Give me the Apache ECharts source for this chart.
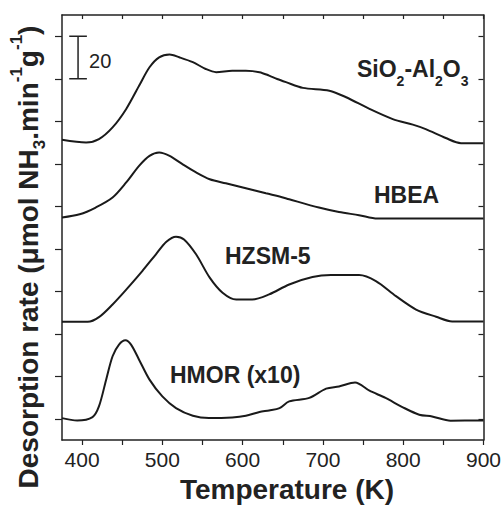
<!DOCTYPE html>
<html>
<head>
<meta charset="utf-8">
<script src="https://cdn.jsdelivr.net/npm/echarts@6.0.0/dist/echarts.min.js"></script>
<style>
html, body {margin: 0; padding: 0; background: #fff;}
#tpd {width: 504px; height: 507px;}
</style>
</head>
<body>
<div id="tpd"></div>
<script>
/************************ data ***************************************************/
// stacked NH3-TPD curves, y values already include the vertical offsets
var sioT    = [375, 405, 421, 438, 455, 471, 484, 496, 509, 521, 538, 554, 567, 587, 604, 621, 633, 643, 654, 675, 708, 729, 758, 787, 812, 828, 853, 872, 900];
var sioRate = [131.3, 130.0, 131.6, 137.1, 145.8, 156.7, 165.4, 170.1, 171.4, 170.1, 167.8, 164.6, 163.1, 163.8, 163.8, 163.1, 161.5, 159.9, 158.4, 155.7, 154.4, 151.3, 145.8, 141.0, 138.4, 136.3, 132.1, 129.7, 129.7];

var hbeaT    = [375, 397, 417, 438, 455, 471, 484, 496, 509, 525, 542, 559, 579, 604, 629, 646, 658, 695, 720, 745, 768, 900];
var hbeaRate = [94.7, 96.2, 99.4, 104.1, 111.2, 119.0, 123.7, 125.3, 123.7, 119.8, 115.9, 112.7, 110.8, 108.5, 106.1, 104.6, 103.3, 99.4, 97.3, 95.8, 94.2, 94.2];

var hzsmT    = [375, 407, 421, 438, 455, 475, 492, 505, 517, 527, 542, 559, 575, 592, 612, 633, 658, 687, 710, 745, 766, 791, 816, 841, 861, 900];
var hzsmRate = [45.6, 45.6, 47.8, 53.8, 60.8, 69.5, 77.4, 83.3, 85.7, 84.4, 77.4, 66.4, 59.3, 56.1, 56.1, 58.5, 63.2, 66.7, 67.6, 67.6, 64.8, 57.7, 51.4, 48.0, 45.8, 45.8];

var hmorT    = [375, 394, 413, 421, 430, 438, 446, 454, 461, 471, 484, 500, 517, 538, 558, 587, 604, 621, 633, 646, 658, 683, 704, 720, 740, 758, 778, 799, 820, 836, 859, 900];
var hmorRate = [0.3, -0.8, 0.8, 5.8, 18.4, 29.4, 34.9, 36.9, 34.9, 27.8, 18.4, 10.5, 5.0, 1.4, 0.3, 0.6, 1.4, 3.2, 3.9, 5.0, 8.2, 9.8, 14.2, 15.2, 17.1, 13.2, 9.8, 5.5, 1.9, 1.1, -0.9, -0.8];

var xTicks  = [400, 450, 500, 550, 600, 650, 700, 750, 800, 850, 900];
var xLabels = [400, 500, 600, 700, 800, 900];
var yTicks  = [0, 20, 40, 60, 80, 100, 120, 140, 160, 180];

// 20 unit scale bar: [temperature, from, to]
var scaleBar = [395, 160, 180];

var FONT = 'Liberation Sans, Arial, Helvetica, sans-serif';
var INK = '#1a1a1a';

/************************************** function ******************************************************/
function pairs(t, v) {
    var out = [];
    for (var i = 0; i < t.length; i++) out.push([t[i], v[i]]);
    return out;
}

function curve(name, t, v) {
    return {
        name: name, type: 'line', data: pairs(t, v),
        xAxisIndex: 0, yAxisIndex: 0,
        showSymbol: false, smooth: 0.3,
        lineStyle: {color: INK, width: 2}, silent: true
    };
}

var axisLine = {show: true, onZero: false, lineStyle: {color: '#222', width: 1.5}};
var tickStyle = {color: '#222', width: 1.2};

var chart = echarts.init(document.getElementById('tpd'), null, {renderer: 'svg'});

var opt = {
    animation: false,
    backgroundColor: '#fff',
    grid: {left: 62, right: 20, top: 15, bottom: 67, containLabel: false},
    xAxis: [
        {type: 'value', position: 'bottom', min: 375, max: 900,
         axisLine: axisLine,
         axisTick: {show: true, inside: false, length: 5, customValues: xTicks, lineStyle: tickStyle},
         axisLabel: {show: true, customValues: xLabels, fontSize: 21, color: '#222', fontFamily: FONT, margin: 9},
         splitLine: {show: false}},
        {type: 'value', position: 'top', min: 375, max: 900,
         axisLine: axisLine,
         axisTick: {show: true, inside: true, length: 4, customValues: xTicks, lineStyle: tickStyle},
         axisLabel: {show: false}, splitLine: {show: false}}
    ],
    yAxis: [
        {type: 'value', position: 'left', min: -10, max: 190,
         axisLine: axisLine,
         axisTick: {show: true, inside: false, length: 7, customValues: yTicks, lineStyle: tickStyle},
         axisLabel: {show: false}, splitLine: {show: false}},
        {type: 'value', position: 'right', min: -10, max: 190,
         axisLine: axisLine,
         axisTick: {show: true, inside: true, length: 5, customValues: yTicks, lineStyle: tickStyle},
         axisLabel: {show: false}, splitLine: {show: false}}
    ],
    series: [
        curve('SiO2-Al2O3', sioT, sioRate),
        curve('HBEA', hbeaT, hbeaRate),
        curve('HZSM-5', hzsmT, hzsmRate),
        curve('HMOR (x10)', hmorT, hmorRate),
        {
            type: 'custom', xAxisIndex: 0, yAxisIndex: 0, silent: true, clip: false,
            data: [scaleBar],
            renderItem: function (params, api) {
                var x = api.value(0), lo = api.value(1), hi = api.value(2);
                var pLo = api.coord([x, lo]), pHi = api.coord([x, hi]);
                var cLo = api.coord([x - 11, lo]), cHi = api.coord([x + 11, hi]);
                var ls = {stroke: '#222', lineWidth: 1.5};
                return {
                    type: 'group',
                    children: [
                        {type: 'line', shape: {x1: pLo[0], y1: pLo[1], x2: pHi[0], y2: pHi[1]}, style: ls},
                        {type: 'line', shape: {x1: cLo[0], y1: pLo[1], x2: cHi[0], y2: pLo[1]}, style: ls},
                        {type: 'line', shape: {x1: cLo[0], y1: pHi[1], x2: cHi[0], y2: pHi[1]}, style: ls},
                        {type: 'text', x: pHi[0] + 11, y: (pLo[1] + pHi[1]) / 2 + 3,
                         style: {text: '20', fontSize: 20, fontFamily: FONT, fill: '#222', align: 'left', verticalAlign: 'middle'}}
                    ]
                };
            }
        }
    ],
    graphic: [
        {type: 'text', left: 357, top: 57, silent: true,
         style: {
            text: '{m|SiO}{s|2}{m|-Al}{s|2}{m|O}{s|3}',
            rich: {
                m: {fontSize: 23, fontWeight: 'bold', fontFamily: FONT, fill: '#222', lineHeight: 38},
                s: {fontSize: 14, fontWeight: 'bold', fontFamily: FONT, fill: '#222', lineHeight: 14, verticalAlign: 'bottom'}
            }
         }},
        {type: 'text', x: 374, y: 195, silent: true,
         style: {text: 'HBEA', fontSize: 23, fontWeight: 'bold', fontFamily: FONT, fill: '#222', align: 'left', verticalAlign: 'middle'}},
        {type: 'text', x: 225, y: 256, silent: true,
         style: {text: 'HZSM-5', fontSize: 23, fontWeight: 'bold', fontFamily: FONT, fill: '#222', align: 'left', verticalAlign: 'middle'}},
        {type: 'text', x: 170, y: 375, silent: true,
         style: {text: 'HMOR (x10)', fontSize: 23, fontWeight: 'bold', fontFamily: FONT, fill: '#222', align: 'left', verticalAlign: 'middle'}},
        {type: 'text', x: 287, y: 489, silent: true,
         style: {text: 'Temperature (K)', fontSize: 28, fontWeight: 'bold', fontFamily: FONT, fill: '#222', align: 'center', verticalAlign: 'middle'}},
        {type: 'text', x: 28, y: 257, rotation: Math.PI / 2, silent: true,
         style: {
            text: '{m|Desorption rate (\u03bcmol NH}{b|3}{m|.min}{p|-1}{m|g}{p|-1}{m|)}',
            align: 'center', verticalAlign: 'middle',
            rich: {
                m: {fontSize: 28, fontWeight: 'bold', fontFamily: FONT, fill: '#222', lineHeight: 40},
                b: {fontSize: 17, fontWeight: 'bold', fontFamily: FONT, fill: '#222', lineHeight: 17, verticalAlign: 'bottom'},
                p: {fontSize: 17, fontWeight: 'bold', fontFamily: FONT, fill: '#222', lineHeight: 17, verticalAlign: 'top'}
            }
         }}
    ]
};

chart.setOption(opt);
</script>
</body>
</html>
